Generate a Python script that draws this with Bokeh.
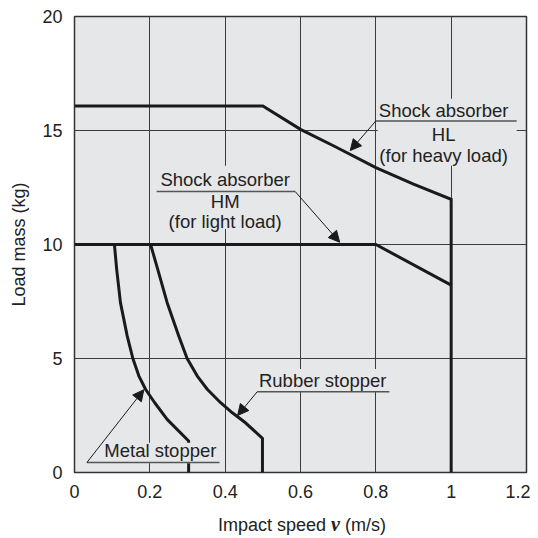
from bokeh.plotting import figure
from bokeh.models import FixedTicker, Arrow, NormalHead, Div
from bokeh.layouts import column
from bokeh.core.properties import value
from bokeh.embed import file_html
from bokeh.resources import INLINE

# ---- data ----
x_ticks = [0, 0.2, 0.4, 0.6, 0.8, 1.0, 1.2]
x_tick_labels = ["0", "0.2", "0.4", "0.6", "0.8", "1", "1.2"]
y_ticks = [0, 5, 10, 15, 20]
y_tick_labels = ["0", "5", "10", "15", "20"]

hl_speed = [0.0, 0.5, 0.6, 0.69, 0.8, 0.9, 1.0, 1.0]
hl_mass = [16.08, 16.08, 15.05, 14.31, 13.37, 12.65, 11.98, 0.0]

hm_speed = [0.0, 0.8, 1.0]
hm_mass = [10.0, 10.0, 8.22]

rubber_speed = [0.202, 0.221, 0.246, 0.277, 0.299, 0.326, 0.353, 0.388, 0.419, 0.454, 0.499, 0.499]
rubber_mass = [10.0, 8.91, 7.45, 5.98, 5.0, 4.23, 3.64, 3.06, 2.62, 2.18, 1.5, 0.0]

metal_speed = [0.106, 0.112, 0.122, 0.140, 0.155, 0.171, 0.189, 0.213, 0.246, 0.303, 0.303]
metal_mass = [10.0, 8.91, 7.45, 5.98, 5.0, 4.23, 3.64, 3.06, 2.33, 1.38, 0.0]

BG = "#e6e7e9"
INK = "#1a1a1a"
TXT = "#222222"
FONT = "Liberation Sans"

p = figure(width=530, height=508, x_range=(0, 1.2), y_range=(0, 20),
           output_backend="svg", toolbar_location=None,
           min_border_left=74, min_border_right=4, min_border_top=16, min_border_bottom=36)
p.background_fill_color = BG
p.border_fill_color = "white"
p.outline_line_color = "#333333"
p.outline_line_width = 1.5

p.xaxis.ticker = FixedTicker(ticks=x_ticks)
p.yaxis.ticker = FixedTicker(ticks=y_ticks)
p.xaxis.major_label_overrides = {t: l for t, l in zip(x_ticks, x_tick_labels)}
p.yaxis.major_label_overrides = {t: l for t, l in zip(y_ticks, y_tick_labels)}
for ax in (p.xaxis, p.yaxis):
    ax.axis_line_color = None
    ax.major_tick_line_color = None
    ax.minor_tick_line_color = None
    ax.major_tick_out = 0
    ax.major_tick_in = 0
    ax.major_label_text_font = FONT
    ax.major_label_text_font_size = "18px"
    ax.major_label_text_color = TXT
    ax.major_label_standoff = 12
p.yaxis.axis_label = "Load mass (kg)"
p.yaxis.axis_label_text_font = FONT
p.yaxis.axis_label_text_font_size = "18px"
p.yaxis.axis_label_text_font_style = "normal"
p.yaxis.axis_label_text_color = TXT
p.yaxis.axis_label_standoff = 10

p.grid.grid_line_color = "#3c3c3c"
p.grid.grid_line_width = 1

# ---- curves ----
lw = 3
p.line(hl_speed, hl_mass, line_width=lw, color=INK, line_join="miter")
p.line(hm_speed, hm_mass, line_width=lw, color=INK, line_join="miter")
p.line(rubber_speed, rubber_mass, line_width=lw, color=INK, line_join="round")
p.line(metal_speed, metal_mass, line_width=lw, color=INK, line_join="round")

# ---- label backgrounds (hide gridlines behind callout texts) ----
p.quad(left=[0.805, 0.218, 0.486, 0.033], right=[1.174, 0.587, 0.837, 0.383],
       top=[16.39, 13.45, 4.54, 1.31], bottom=[13.45, 10.68, 3.53, 0.41],
       fill_color=BG, line_color=None)

# ---- underlines ----
p.segment(x0=[0.80, 0.218, 0.485, 0.033], x1=[1.174, 0.586, 0.836, 0.385],
          y0=[15.42, 12.32, 3.54, 0.44], y1=[15.42, 12.32, 3.54, 0.44],
          line_color="#555555", line_width=1.5)

# ---- callout texts ----
txt_x = [0.98, 0.98, 0.98, 0.4, 0.4, 0.4, 0.659, 0.228]
txt_y = [15.86, 14.84, 13.89, 12.84, 11.87, 11.03, 4.02, 0.95]
txt = ["Shock absorber", "HL", "(for heavy load)",
       "Shock absorber", "HM", "(for light load)",
       "Rubber stopper", "Metal stopper"]
p.text(x=txt_x, y=txt_y, text=txt, text_font=value(FONT), text_font_size="18.5px",
       text_align="center", text_baseline="middle", text_color=TXT)

# ---- arrows ----
arrows = [((0.80, 15.42), (0.732, 14.12)),
          ((0.586, 12.32), (0.704, 10.1)),
          ((0.485, 3.54), (0.433, 2.5)),
          ((0.033, 0.44), (0.184, 3.63))]
for (xs, ys), (xe, ye) in arrows:
    p.add_layout(Arrow(x_start=xs, y_start=ys, x_end=xe, y_end=ye,
                       line_color=INK, line_width=1,
                       end=NormalHead(size=11, fill_color=INK, line_color=INK, line_width=1)))

# ---- x axis title (mixed fonts: bold italic serif v) ----
x_title = Div(
    text=('<div style="width:456px; margin-left:74px; padding-top:6px; text-align:center; '
          'font-family:\'Liberation Sans\'; font-size:18px; line-height:21px; color:#222222;">'
          'Impact speed <span style="font-family:\'Liberation Serif\'; font-weight:bold; '
          'font-style:italic; font-size:20px;">v</span> (m/s)</div>'),
    width=530, height=30, margin=(0, 0, 0, 0))

layout = column(p, x_title, spacing=0)
open("out.html", "w").write(file_html(layout, INLINE))
